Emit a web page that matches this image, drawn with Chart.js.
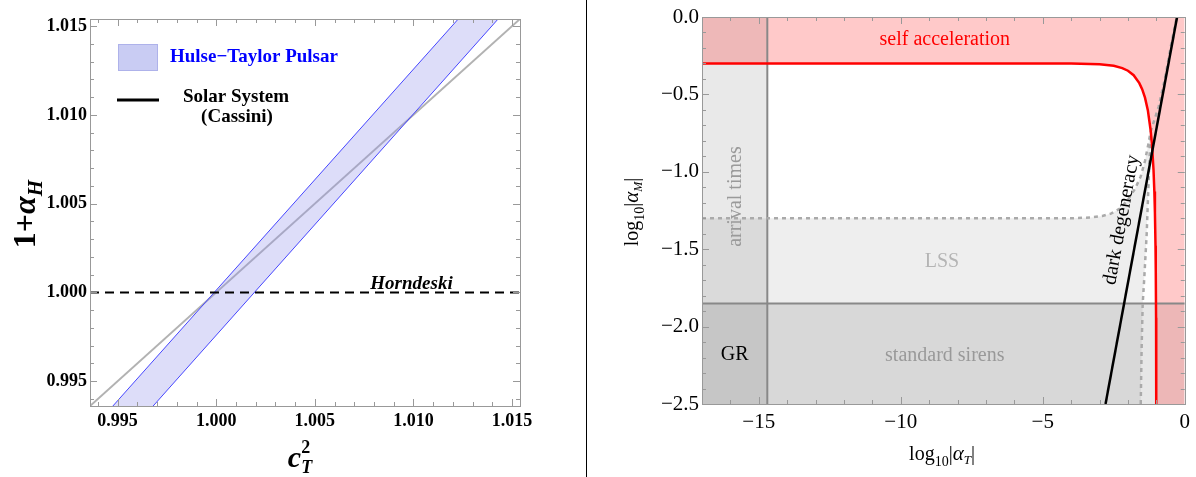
<!DOCTYPE html>
<html><head><meta charset="utf-8">
<script src="https://cdn.jsdelivr.net/npm/chart.js@4.4.1/dist/chart.umd.min.js"></script>
<style>
html,body{margin:0;padding:0;background:#fff;width:1196px;height:477px;overflow:hidden}
#l{position:absolute;left:0;top:0;width:586px;height:477px}
#r{position:absolute;left:588px;top:0;width:608px;height:477px}
#sep{position:absolute;left:586px;top:0;width:1px;height:477px;background:#000}
</style></head><body>
<div id="l"><canvas id="cl"></canvas></div>
<div id="sep"></div>
<div id="r"><canvas id="cr"></canvas></div>
<script>
// ---------- LEFT PANEL DATA ----------
const leftRange = [0.9936, 1.0154];
const leftMajorTicks = [0.995, 1.000, 1.005, 1.010, 1.015];
const htEdgeY = [0.9936, 1.0154];
const htUpperEdgeX = [0.99476, 1.01227];
const htLowerEdgeX = [0.99680, 1.01429];
const cassiniX = [0.9936, 1.0154];
const cassiniY = [0.9936, 1.0154];
const horndeskiValue = 1.000;

// ---------- RIGHT PANEL DATA ----------
const xRangeR = [-17, 0];
const yRangeR = [-2.5, 0];
const xMajorR = [-15, -10, -5, 0];
const yMajorR = [-2.5, -2.0, -1.5, -1.0, -0.5, 0.0];
const arrivalBound = -14.7;
const sirensBound = -1.85;
const selfAccX = [-17, -6, -4, -3, -2.5, -2.2, -2.0, -1.8, -1.6, -1.5, -1.4, -1.3, -1.2, -1.15, -1.1, -1.07, -1.05, -1.03, -1.02, -1.01, -1.005, -1.002];
const selfAccY = [-0.30, -0.30, -0.301, -0.305, -0.315, -0.33, -0.347, -0.376, -0.427, -0.466, -0.521, -0.602, -0.733, -0.836, -0.987, -1.128, -1.265, -1.477, -1.648, -1.943, -2.24, -2.64];
const lssRiseX = [-17, -4.0, -3.3, -2.9, -2.6, -2.3, -2.0, -1.75, -1.55, -1.4, -1.28, -1.2];
const lssRiseY = [-1.30, -1.30, -1.295, -1.285, -1.27, -1.24, -1.18, -1.11, -1.03, -0.93, -0.82, -0.74];
const lssUpperX = [-0.92, -0.70, -0.48, -0.28];
const lssUpperY = [-0.58, -0.40, -0.18, 0.0];
const lssDescX = [-1.55, -1.52, -1.48, -1.43, -1.34, -1.27, -1.2];
const lssDescY = [-2.5, -2.15, -1.85, -1.7, -1.4, -1.05, -0.74];
const darkX = [-2.79, -0.27];
const darkY = [-2.5, 0.0];

// ---------- helpers ----------
const pts = (xs, ys) => xs.map((x, i) => ({x: x, y: ys[i]}));
const SERIF = "'Liberation Serif', 'Times New Roman', serif";
const near = (a, b) => Math.abs(a - b) < 1e-9;
const isIn = (arr, v) => arr.some(m => near(m, v));
const minus = s => s.replace('-', '\u2212');

function rich(ctx, parts, x, y, angle, align) {
  ctx.save(); ctx.translate(x, y); ctx.rotate(angle || 0);
  ctx.textAlign = 'left'; ctx.textBaseline = 'alphabetic';
  let w = 0;
  parts.forEach(p => { ctx.font = p.f; p.w = ctx.measureText(p.t).width; if (!p.na) w += p.w; });
  let cx = align === 'center' ? -w / 2 : 0;
  parts.forEach(p => {
    ctx.font = p.f; ctx.fillStyle = p.c || '#000';
    ctx.fillText(p.t, cx + (p.dx || 0), p.dy || 0);
    if (!p.na) cx += p.w;
  });
  ctx.restore();
}
function label(ctx, t, x, y, font, color, angle) {
  ctx.save(); ctx.translate(x, y); ctx.rotate(angle || 0);
  ctx.font = font; ctx.fillStyle = color; ctx.textAlign = 'center'; ctx.textBaseline = 'middle';
  ctx.fillText(t, 0, 0); ctx.restore();
}

function makeFrame(xMaj, yMaj, color) {
  return {
    id: 'frameTicks',
    afterDraw(chart) {
      const {ctx, chartArea: a} = chart;
      const xs = chart.scales.x, ys = chart.scales.y;
      ctx.save();
      ctx.strokeStyle = color; ctx.lineWidth = 1;
      ctx.beginPath();
      xs.ticks.forEach(t => {
        const p = Math.round(xs.getPixelForValue(t.value)) + 0.5;
        const len = isIn(xMaj, t.value) ? 7 : 4;
        ctx.moveTo(p, a.bottom); ctx.lineTo(p, a.bottom - len);
        ctx.moveTo(p, a.top); ctx.lineTo(p, a.top + len);
      });
      ys.ticks.forEach(t => {
        const p = Math.round(ys.getPixelForValue(t.value)) + 0.5;
        const len = isIn(yMaj, t.value) ? 7 : 4;
        ctx.moveTo(a.left, p); ctx.lineTo(a.left + len, p);
        ctx.moveTo(a.right, p); ctx.lineTo(a.right - len, p);
      });
      ctx.stroke();
      ctx.strokeRect(Math.round(a.left) + 0.5, Math.round(a.top) + 0.5, Math.round(a.right - a.left), Math.round(a.bottom - a.top));
      ctx.restore();
    }
  };
}

function axis(min, max, majors, all, fmt, font, pad, fit, isY) {
  return {
    type: 'linear', min: min, max: max,
    grid: {display: false, drawTicks: false}, border: {display: false},
    ticks: {autoSkip: false, maxRotation: 0, minRotation: 0, padding: pad, color: '#000', font: font,
      callback: v => isIn(majors, v) ? fmt(v) : ''},
    afterBuildTicks: s => { s.ticks = all.map(v => ({value: v})); },
    afterFit: s => { if (isY) s.width = fit; else s.height = fit; }
  };
}

Chart.defaults.font.family = SERIF;

// ---------- LEFT CHART ----------
const leftAll = [];
for (let k = 994; k <= 1015; k++) leftAll.push(k / 1000);
const lfont = {family: SERIF, size: 18, weight: 'bold'};

const leftText = {
  id: 'leftText',
  afterDatasetsDraw(chart) {
    const ctx = chart.ctx, xs = chart.scales.x, ys = chart.scales.y;
    ctx.save();
    ctx.font = "italic bold 19px " + SERIF; ctx.fillStyle = '#000';
    ctx.textAlign = 'center'; ctx.textBaseline = 'alphabetic';
    ctx.fillText('Horndeski', xs.getPixelForValue(1.0099), ys.getPixelForValue(horndeskiValue) - 3);
    // legend
    ctx.fillStyle = '#c9ccf3'; ctx.fillRect(118, 44, 40, 27);
    ctx.strokeStyle = '#aeb2ea'; ctx.lineWidth = 1; ctx.strokeRect(118.5, 44.5, 39, 26);
    ctx.font = "bold 19px " + SERIF; ctx.fillStyle = '#0000ff'; ctx.textAlign = 'left'; ctx.textBaseline = 'middle';
    ctx.fillText('Hulse\u2212Taylor Pulsar', 170, 57);
    ctx.strokeStyle = '#000'; ctx.lineWidth = 3; ctx.beginPath(); ctx.moveTo(117, 100); ctx.lineTo(159, 100); ctx.stroke();
    ctx.fillStyle = '#000'; ctx.textAlign = 'center';
    ctx.fillText('Solar System', 236, 97);
    ctx.fillText('(Cassini)', 237, 117);
    ctx.restore();
  },
  afterDraw(chart) {
    const ctx = chart.ctx;
    rich(ctx, [
      {t: '1+', f: 'bold 32px ' + SERIF},
      {t: '\u03B1', f: 'italic bold 32px ' + SERIF},
      {t: 'H', f: 'italic bold 21px ' + SERIF, dy: 7}
    ], 35, 214, -Math.PI / 2, 'center');
    rich(ctx, [
      {t: 'c', f: 'italic bold 30px ' + SERIF},
      {t: '2', f: 'bold 18px ' + SERIF, dy: -14, na: true},
      {t: 'T', f: 'italic bold 18px ' + SERIF, dy: 6}
    ], 300, 467, 0, 'center');
  }
};

new Chart(document.getElementById('cl'), {
  type: 'line',
  data: {datasets: [
    {label: 'Hulse-Taylor upper', indexAxis: 'y', data: pts(htUpperEdgeX, htEdgeY), borderColor: '#4646ff', borderWidth: 1, fill: false, order: 4},
    {label: 'Hulse-Taylor lower', indexAxis: 'y', data: pts(htLowerEdgeX, htEdgeY), borderColor: '#4646ff', borderWidth: 1, fill: '-1', backgroundColor: 'rgba(150,150,235,0.32)', order: 5},
    {label: 'Solar System (Cassini)', data: pts(cassiniX, cassiniY), borderColor: '#b2b2b2', borderWidth: 2, fill: false, order: 6},
    {label: 'Horndeski', data: pts(leftRange, [horndeskiValue, horndeskiValue]), borderColor: '#000', borderWidth: 2, borderDash: [9, 6], fill: false, order: 2}
  ]},
  options: {
    responsive: true, maintainAspectRatio: false, animation: false, events: [],
    layout: {padding: {top: 19, right: 66, bottom: 0, left: 0}},
    elements: {point: {radius: 0}, line: {tension: 0}},
    datasets: {line: {clip: 0}},
    plugins: {legend: {display: false}, tooltip: {enabled: false}},
    scales: {
      x: axis(leftRange[0], leftRange[1], leftMajorTicks, leftAll, v => v.toFixed(3), lfont, 5, 71, false),
      y: axis(leftRange[0], leftRange[1], leftMajorTicks, leftAll, v => v.toFixed(3), lfont, 3, 90, true)
    }
  },
  plugins: [makeFrame(leftMajorTicks, leftMajorTicks, '#999'), leftText]
});

// ---------- RIGHT CHART ----------
const rxAll = [], ryAll = [];
for (let k = -17; k <= 0; k++) rxAll.push(k);
for (let k = -25; k <= 0; k++) ryAll.push(k / 10);
const rfont = {family: SERIF, size: 21};

const rightText = {
  id: 'rightText',
  afterDatasetsDraw(chart) {
    const ctx = chart.ctx, xs = chart.scales.x, ys = chart.scales.y;
    const P = (x, y) => [xs.getPixelForValue(x), ys.getPixelForValue(y)];
    const f = '20px ' + SERIF;
    let p;
    p = P(-8.45, -0.15); label(ctx, 'self acceleration', p[0], p[1], f, '#ff0000');
    p = P(-15.8, -1.16); label(ctx, 'arrival times', p[0], p[1], f, '#9a9a9a', -Math.PI / 2);
    p = P(-8.55, -1.58); label(ctx, 'LSS', p[0], p[1], f, '#b4b4b4');
    p = P(-8.45, -2.19); label(ctx, 'standard sirens', p[0], p[1], f, '#999');
    p = P(-15.85, -2.18); label(ctx, 'GR', p[0], p[1], f, '#000');
    const a = P(darkX[0], darkY[0]), b = P(darkX[1], darkY[1]);
    const ang = Math.atan2(b[1] - a[1], b[0] - a[0]);
    p = P(-2.22, -1.31); label(ctx, 'dark degeneracy', p[0], p[1], f, '#000', ang);
  },
  afterDraw(chart) {
    const ctx = chart.ctx;
    rich(ctx, [
      {t: 'log', f: '20px ' + SERIF},
      {t: '10', f: '14px ' + SERIF, dy: 6},
      {t: '|', f: '20px ' + SERIF},
      {t: '\u03B1', f: 'italic 21px ' + SERIF},
      {t: 'M', f: 'italic 12px ' + SERIF, dy: 4},
      {t: '|', f: '20px ' + SERIF}
    ], 50, 212, -Math.PI / 2, 'center');
    rich(ctx, [
      {t: 'log', f: '20px ' + SERIF},
      {t: '10', f: '14px ' + SERIF, dy: 6},
      {t: '|', f: '20px ' + SERIF},
      {t: '\u03B1', f: 'italic 21px ' + SERIF},
      {t: 'T', f: 'italic 13px ' + SERIF, dy: 4},
      {t: '|', f: '20px ' + SERIF}
    ], 354, 460, 0, 'center');
  }
};

const lssLeft = [{x: xRangeR[0], y: yRangeR[0]}].concat(pts(lssRiseX, lssRiseY));
const pinkFill = pts(selfAccX, selfAccY).concat([{x: xRangeR[1], y: selfAccY[selfAccY.length - 1]}]);

new Chart(document.getElementById('cr'), {
  type: 'line',
  data: {datasets: [
    {label: 'LSS left', indexAxis: 'y', data: lssLeft, borderWidth: 0, borderColor: 'rgba(0,0,0,0)', fill: false, order: 21},
    {label: 'LSS', indexAxis: 'y', data: pts(lssDescX, lssDescY), borderWidth: 0, borderColor: 'rgba(0,0,0,0)', fill: '-1', backgroundColor: 'rgba(0,0,0,0.065)', order: 20},
    {label: 'standard sirens', data: pts(xRangeR, [sirensBound, sirensBound]), borderWidth: 0, borderColor: 'rgba(0,0,0,0)', fill: 'start', backgroundColor: 'rgba(0,0,0,0.095)', order: 19},
    {label: 'arrival times', data: pts([xRangeR[0], arrivalBound], [yRangeR[1], yRangeR[1]]), borderWidth: 0, borderColor: 'rgba(0,0,0,0)', fill: 'start', backgroundColor: 'rgba(0,0,0,0.085)', order: 18},
    {label: 'self acceleration', data: pinkFill, borderWidth: 0, borderColor: 'rgba(0,0,0,0)', fill: 'end', backgroundColor: 'rgba(255,0,0,0.21)', order: 17},
    {label: 'arrival line', data: pts([arrivalBound, arrivalBound], yRangeR), borderColor: '#888', borderWidth: 2, fill: false, order: 16},
    {label: 'sirens line', data: pts(xRangeR, [sirensBound, sirensBound]), borderColor: '#888', borderWidth: 2, fill: false, order: 15},
    {label: 'LSS boundary', data: pts(lssRiseX.concat(lssUpperX), lssRiseY.concat(lssUpperY)), borderColor: '#aaa', borderWidth: 2.5, borderDash: [4, 4], fill: false, order: 14},
    {label: 'LSS boundary 2', indexAxis: 'y', data: pts(lssDescX, lssDescY), borderColor: '#aaa', borderWidth: 2.5, borderDash: [4, 4], fill: false, order: 13},
    {label: 'self acceleration line', data: pts(selfAccX, selfAccY), borderColor: '#ff0000', borderWidth: 2.5, fill: false, order: 12},
    {label: 'dark degeneracy', data: pts(darkX, darkY), borderColor: '#000', borderWidth: 2.5, fill: false, order: 11}
  ]},
  options: {
    responsive: true, maintainAspectRatio: false, animation: false, events: [],
    layout: {padding: {top: 17, right: 11, bottom: 0, left: 0}},
    elements: {point: {radius: 0}, line: {tension: 0}},
    datasets: {line: {clip: 0}},
    plugins: {legend: {display: false}, tooltip: {enabled: false}},
    scales: {
      x: axis(xRangeR[0], xRangeR[1], xMajorR, rxAll, v => minus(String(v)), rfont, 6, 73, false),
      y: axis(yRangeR[0], yRangeR[1], yMajorR, ryAll, v => minus(v.toFixed(1)), rfont, 3, 114, true)
    }
  },
  plugins: [makeFrame(xMajorR, yMajorR, '#999'), rightText]
});
</script>
</body></html>
